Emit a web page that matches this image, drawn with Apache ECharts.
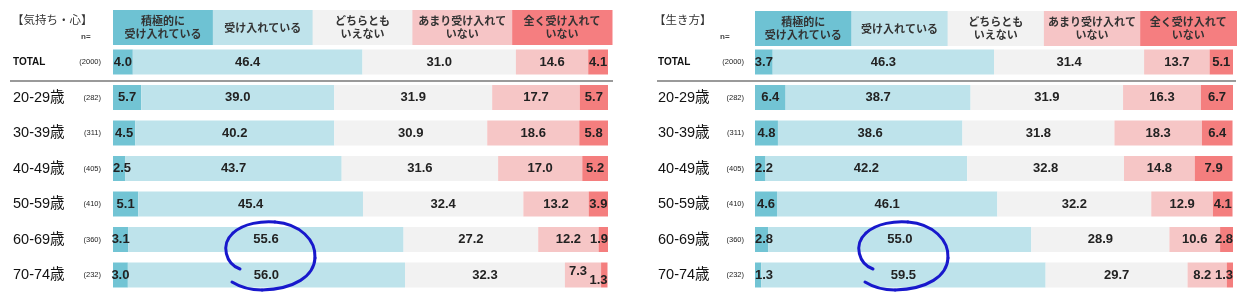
<!DOCTYPE html>
<html>
<head>
<meta charset="utf-8">
<script src="https://cdn.jsdelivr.net/npm/echarts@6/dist/echarts.min.js"></script>
<style>
html,body{margin:0;padding:0;background:#fff;}
#chart{width:1250px;height:303px;}
</style>
</head>
<body>
<div id="chart"></div>
<script>
// ---- data ----
const categories = ['TOTAL','20-29歳','30-39歳','40-49歳','50-59歳','60-69歳','70-74歳'];
const sampleSizes = [2000,282,311,405,410,360,232];
const headerLabels = ['積極的に\n受け入れている','受け入れている','どちらとも\nいえない','あまり受け入れて\nいない','全く受け入れて\nいない'];
const titleLeft = '【気持ち・心】';
const titleRight = '【生き方】';

// 気持ち・心
const heartActive   = [4.0, 5.7, 4.5, 2.5, 5.1, 3.1, 3.0];
const heartAccept   = [46.4, 39.0, 40.2, 43.7, 45.4, 55.6, 56.0];
const heartNeutral  = [31.0, 31.9, 30.9, 31.6, 32.4, 27.2, 32.3];
const heartLittle   = [14.6, 17.7, 18.6, 17.0, 13.2, 12.2, 7.3];
const heartNot      = [4.1, 5.7, 5.8, 5.2, 3.9, 1.9, 1.3];

// 生き方
const lifeActive    = [3.7, 6.4, 4.8, 2.2, 4.6, 2.8, 1.3];
const lifeAccept    = [46.3, 38.7, 38.6, 42.2, 46.1, 55.0, 59.5];
const lifeNeutral   = [31.4, 31.9, 31.8, 32.8, 32.2, 28.9, 29.7];
const lifeLittle    = [13.7, 16.3, 18.3, 14.8, 12.9, 10.6, 8.2];
const lifeNot       = [5.1, 6.7, 6.4, 7.9, 4.1, 2.8, 1.3];

// ---- styles ----
const barColors = ['#72C4D4','#BEE3EB','#F2F2F2','#F6C6C6','#F47E7E'];
const headColors = ['#6EC2D3','#BFE3EB','#F2F2F2','#F6C5C6','#F57E80'];
const numFont = '"Liberation Sans", Arial, sans-serif';
const jpFont = '"Noto Sans CJK JP", "Noto Sans", sans-serif';

const panels = [
  {sets:[heartActive,heartAccept,heartNeutral,heartLittle,heartNot], left:113, width:495, labelMargin:100, cW:62, hx:113, hw:99.8, hy:10, lineX0:10, lineX1:613, title:titleLeft, tx:12, nx:81, cdx:0},
  {sets:[lifeActive,lifeAccept,lifeNeutral,lifeLittle,lifeNot], left:755, width:478, labelMargin:97, cW:60, hx:755, hw:96.3, hy:11, lineX0:657, lineX1:1236, title:titleRight, tx:654, nx:720, cdx:633}
];
const gridTop = 44.25, gridH = 248.5;

const grids = [], xAxes = [], yAxes = [], series = [], graphics = [];

// hand-drawn highlight stroke (annotation), as cubic segments
const strokeSegs = [
  [240,269, 226,264, 220,245, 233,233],
  [233,233, 244,223, 262,221, 275,222],
  [275,222, 300,224, 316,240, 315,258],
  [315,258, 314,276, 295,289, 262,290],
  [262,290, 250,290, 240,287, 232,282]
];

panels.forEach((p, pi) => {
  grids.push({left:p.left, width:p.width, top:gridTop, height:gridH});
  xAxes.push({type:'value', gridIndex:pi, min:0, max:100, show:false});
  yAxes.push({
    type:'category', gridIndex:pi, data:categories, inverse:true,
    axisLine:{show:false}, axisTick:{show:false},
    axisLabel:{
      margin:p.labelMargin, align:'left',
      formatter:(v, idx) => (idx === 0 ? `{t|${v}}` : `{c|${v}}`) + `{n|(${sampleSizes[idx]})}`,
      rich:{
        t:{width:p.cW, fontSize:10, fontWeight:'bold', color:'#111', fontFamily:numFont},
        c:{width:p.cW, fontSize:14.5, color:'#111', fontFamily:numFont + ',' + jpFont},
        n:{width:26, align:'right', fontSize:7.5, color:'#222', fontFamily:numFont}
      }
    }
  });
  p.sets.forEach((arr, k) => {
    const data = arr.map((v, i) => {
      const item = {value:v};
      if (k === 0 && v < 3) item.label = {position:'insideLeft', distance:0};
      if (k === 4 && v < 3) {
        item.label = {position:'insideRight', distance:0};
        if (pi === 0 && i === 6) item.label.offset = [0, 5];
      }
      if (k === 3 && p.sets[4][i] < 3 && v < 10) {
        item.label = {offset: (pi === 0 && i === 6) ? [-5, -4] : [-5, 0]};
      }
      return item;
    });
    series.push({
      type:'bar', xAxisIndex:pi, yAxisIndex:pi, stack:'s' + pi, barWidth:25,
      name:headerLabels[k], data, itemStyle:{color:barColors[k]},
      label:{show:true, position:'inside', formatter:(d) => d.value.toFixed(1),
        color:'#222', fontSize:13, fontWeight:'bold', fontFamily:numFont},
      emphasis:{disabled:true}, animation:false
    });
  });

  // header (legend-like)
  headerLabels.forEach((h, k) => {
    graphics.push({type:'rect', shape:{x:p.hx + k*p.hw, y:p.hy, width:p.hw + 0.5, height:35}, style:{fill:headColors[k]}});
    graphics.push({type:'text', x:p.hx + k*p.hw + p.hw/2, y:p.hy + 17.5,
      style:{text:h, fill:'#333', font:'bold 11px ' + jpFont, align:'center', verticalAlign:'middle', lineHeight:13}});
  });
  graphics.push({type:'text', x:p.tx, y:20, style:{text:p.title, fill:'#333', font:'11.5px ' + jpFont, align:'left', verticalAlign:'middle'}});
  graphics.push({type:'text', x:p.nx, y:37, style:{text:'n=', fill:'#444', font:'bold 8px ' + numFont, align:'left', verticalAlign:'middle'}});
  graphics.push({type:'line', shape:{x1:p.lineX0, y1:81, x2:p.lineX1, y2:81}, style:{stroke:'#9a9a9a', lineWidth:2}});

  const d = p.cdx;
  strokeSegs.forEach(s => {
    graphics.push({type:'bezierCurve', z:100,
      shape:{x1:s[0]+d, y1:s[1], cpx1:s[2]+d, cpy1:s[3], cpx2:s[4]+d, cpy2:s[5], x2:s[6]+d, y2:s[7]},
      style:{stroke:'#1818CC', lineWidth:3, fill:null, lineCap:'round'}});
  });
});

const chart = echarts.init(document.getElementById('chart'), null, {renderer:'canvas'});
chart.setOption({
  backgroundColor:'#fff',
  animation:false,
  grid:grids, xAxis:xAxes, yAxis:yAxes, series,
  graphic:graphics
});
</script>
</body>
</html>
